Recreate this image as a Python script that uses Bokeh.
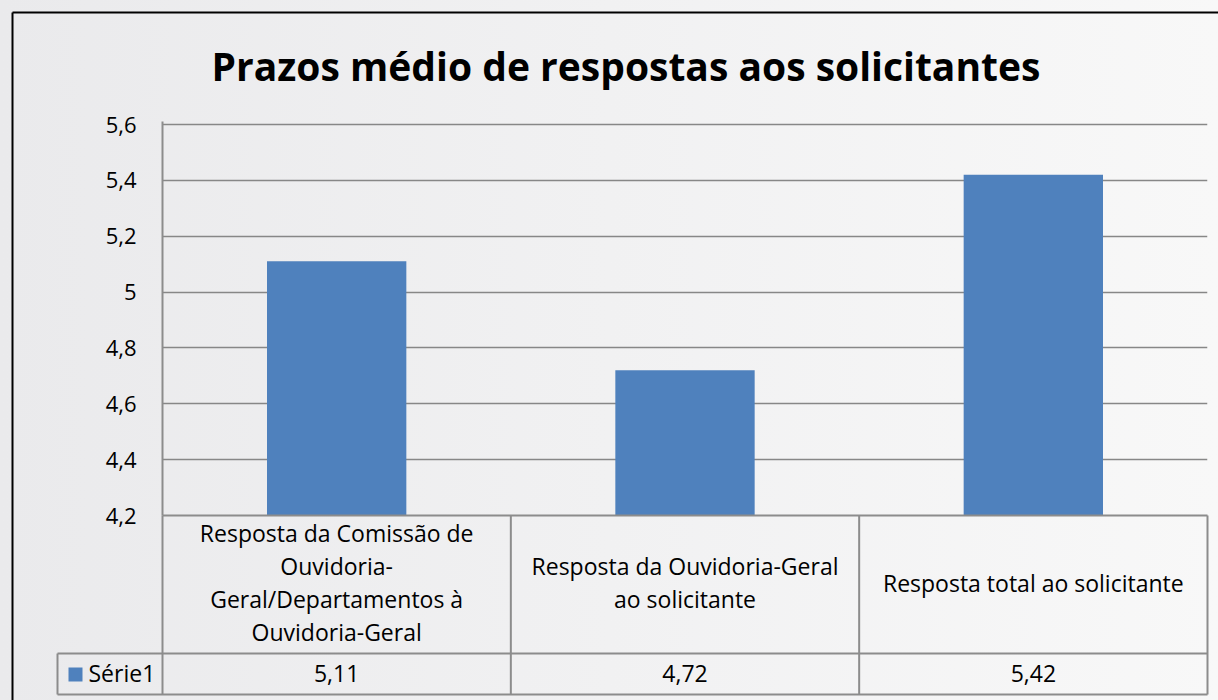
from bokeh.plotting import figure
from bokeh.models import Range1d, FixedTicker, CustomJSTickFormatter
from bokeh.core.properties import value
from bokeh.embed import file_html
from bokeh.resources import INLINE

# ---------------- data ----------------
title = "Prazos médio de respostas aos solicitantes"
categories = [
    "Resposta da Comissão de Ouvidoria-Geral/Departamentos à Ouvidoria-Geral",
    "Resposta da Ouvidoria-Geral ao solicitante",
    "Resposta total ao solicitante",
]
category_labels = [
    "Resposta da Comissão de\nOuvidoria-\nGeral/Departamentos à\nOuvidoria-Geral",
    "Resposta da Ouvidoria-Geral\nao solicitante",
    "Resposta total ao solicitante",
]
series_name = "Série1"
values = [5.11, 4.72, 5.42]
y_ticks = [4.2, 4.4, 4.6, 4.8, 5.0, 5.2, 5.4, 5.6]
y_tick_labels = ["4,2", "4,4", "4,6", "4,8", "5", "5,2", "5,4", "5,6"]

# ---------------- layout (page pixels) ----------------
W, H = 1218, 700
FL, FR, FT, FB = 162, 1207, 124, 515      # pixel of x=0, x=N, y=top tick, y=bottom tick
FRAME_TOP = 121                            # frame a little above the top gridline
ROW1, TB = 653, 694                        # table row line, table bottom
LEG_L = 57                                 # left edge of legend cell
N = len(categories)
Y0, Y1 = y_ticks[0], y_ticks[-1]

def xd(px):
    return (px - FL) / (FR - FL) * N

def yd(py):
    return Y0 + (FB - py) / (FB - FT) * (Y1 - Y0)

BLUE = "#4F81BD"
GRID = "#878787"
TABLE = "#8C8C8C"
FONT = "Open Sans"
FS = "23px"

p = figure(width=W, height=H, x_range=Range1d(0, N), y_range=Range1d(Y0, yd(FRAME_TOP)),
           output_backend="svg", toolbar_location=None, x_axis_location=None,
           min_border_left=FL, min_border_right=W - FR,
           min_border_top=FRAME_TOP, min_border_bottom=H - FB)
p.border_fill_color = None
p.background_fill_color = None
p.outline_line_color = None
p.styles = {"background": "linear-gradient(to right, #EAEAEC, #F8F8F8)"}

# y axis
p.yaxis.ticker = FixedTicker(ticks=y_ticks)
p.yaxis.formatter = CustomJSTickFormatter(args=dict(tvals=y_ticks, tlabels=y_tick_labels), code="""
let best = 0;
for (let i = 0; i < tvals.length; i++) {
  if (Math.abs(tvals[i] - tick) < Math.abs(tvals[best] - tick)) best = i;
}
return tlabels[best];
""")
p.yaxis.major_tick_line_color = None
p.yaxis.minor_tick_line_color = None
p.yaxis.axis_line_color = TABLE
p.yaxis.axis_line_width = 2
p.yaxis.major_label_standoff = 20
p.yaxis.major_label_text_font = FONT
p.yaxis.major_label_text_font_size = "22px"
p.yaxis.major_label_text_color = "#000000"

p.xgrid.visible = False
p.ygrid.grid_line_color = GRID
p.ygrid.grid_line_width = 1.5

# bars
xs = [i + 0.5 for i in range(N)]
p.vbar(x=xs, top=values, bottom=Y0, width=0.4, fill_color=BLUE, line_color=None)

# data table lines
h_x0 = [0, xd(LEG_L), xd(LEG_L)]
h_x1 = [N, N, N]
h_y = [yd(FB), yd(ROW1), yd(TB)]
p.segment(x0=h_x0, x1=h_x1, y0=h_y, y1=h_y, line_color=TABLE, line_width=2, level="overlay")
v_x = list(range(N + 1)) + [xd(LEG_L)]
v_y0 = [yd(FB)] * (N + 1) + [yd(ROW1)]
v_y1 = [yd(TB)] * (N + 2)
p.segment(x0=v_x, x1=v_x, y0=v_y0, y1=v_y1, line_color=TABLE, line_width=2, level="overlay")

# category labels
p.text(x=xs, y=[yd((FB + ROW1) / 2 - 2)] * N, text=category_labels,
       text_font=value(FONT), text_font_size=FS, text_color="#000000",
       text_align="center", text_baseline="middle", text_line_height=1.03, level="overlay")
# values row
value_labels = [f"{v:.2f}".replace(".", ",") for v in values]
p.text(x=xs, y=[yd((ROW1 + TB) / 2 - 1)] * N, text=value_labels,
       text_font=value(FONT), text_font_size=FS, text_color="#000000",
       text_align="center", text_baseline="middle", level="overlay")
# legend key + series name
p.quad(left=[xd(68)], right=[xd(82)], top=[yd(667)], bottom=[yd(681)],
       fill_color=BLUE, line_color=None, level="overlay")
p.text(x=[xd(88)], y=[yd((ROW1 + TB) / 2 - 1)], text=[series_name],
       text_font=value(FONT), text_font_size=FS, text_color="#000000",
       text_align="left", text_baseline="middle", level="overlay")

# title
p.text(x=[xd(625.5)], y=[yd(65)], text=[title],
       text_font=value(FONT), text_font_size="39px", text_font_style="bold",
       text_color="#000000", text_align="center", text_baseline="alphabetic", level="overlay")

# chart outer border
p.segment(x0=[xd(12), xd(12)], x1=[xd(1240), xd(12)], y0=[yd(12), yd(12)], y1=[yd(12), yd(720)],
          line_color="#000000", line_width=2, level="overlay")

open("out.html", "w").write(file_html(p, INLINE))
